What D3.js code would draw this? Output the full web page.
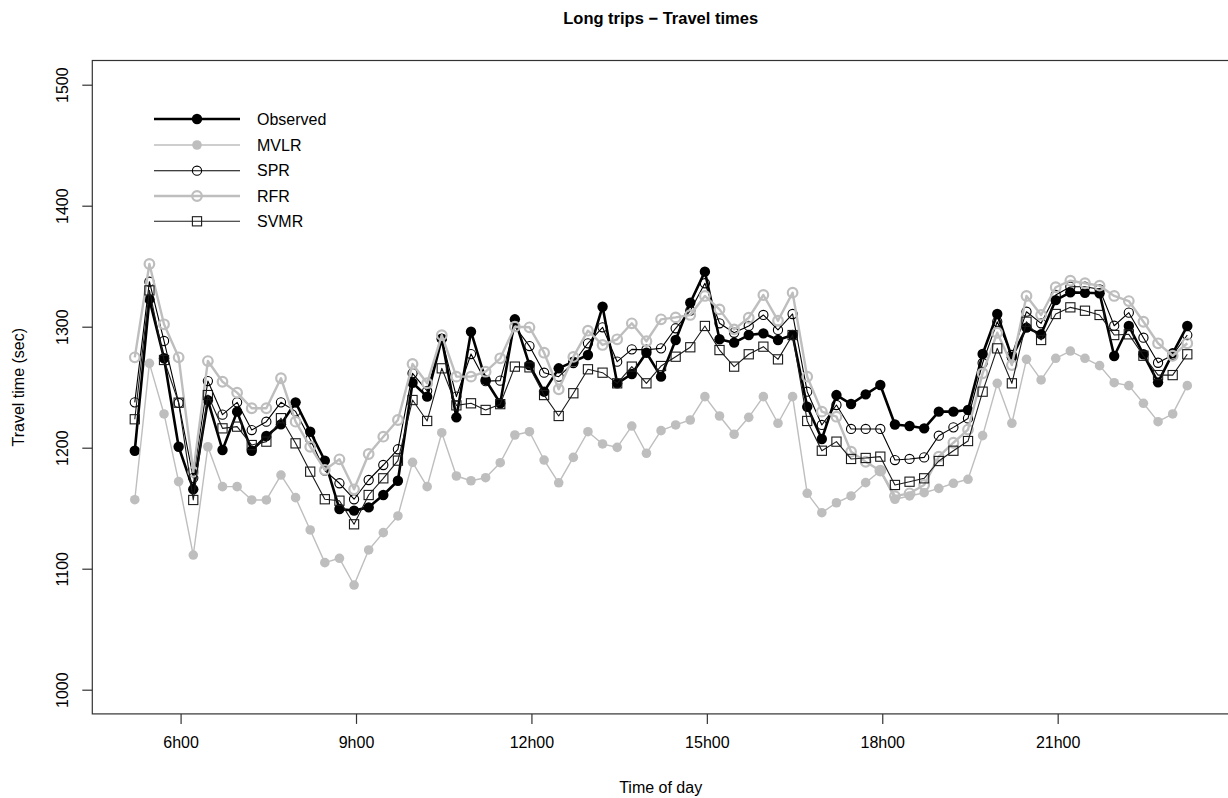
<!DOCTYPE html>
<html>
<head>
<meta charset="utf-8">
<script src="https://cdn.jsdelivr.net/npm/d3@7"></script>
<style>
  html, body { margin: 0; padding: 0; background: #fff; }
  svg text { font-family: "Liberation Sans", Arial, Helvetica, sans-serif; fill: #000; }
</style>
</head>
<body>
<svg id="chart" width="1228" height="798"></svg>
<script>
// ---- data ----
const times = ["5:13","5:28","5:43","5:58","6:13","6:28","6:43","6:58","7:13","7:28","7:43","7:58",
  "8:13","8:28","8:43","8:58","9:13","9:28","9:43","9:58","10:13","10:28","10:43","10:58",
  "11:13","11:28","11:43","11:58","12:13","12:28","12:43","12:58","13:13","13:28","13:43","13:58",
  "14:13","14:28","14:43","14:58","15:13","15:28","15:43","15:58","16:13","16:28","16:43","16:58",
  "17:13","17:28","17:43","17:58","18:13","18:28","18:43","18:58","19:13","19:28","19:43","19:58",
  "20:13","20:28","20:43","20:58","21:13","21:28","21:43","21:58","22:13","22:28","22:43","22:58","23:13"];

const observed = [1197.5,1322.6,1273.9,1200.8,1165.6,1239.2,1198.1,1229.8,1197.5,1209.7,1219.3,1237.5,
  1213.2,1189.3,1149.3,1148,1150.7,1160.9,1172.7,1253.7,1242.2,1290.1,1225.1,1295.9,
  1256,1236.7,1306.1,1268.3,1246.3,1265.6,1271.1,1276.6,1316.5,1253.2,1260.9,1278.5,
  1258.7,1289,1319.8,1345.5,1289.6,1286.8,1293.1,1294.5,1289,1293.1,1233.8,1207.2,
  1243.5,1236.1,1244.1,1251.8,1219.2,1217.9,1216,1229.8,1229.8,1231.2,1277.4,1310.5,
  1274.7,1299.2,1293.7,1322,1328.4,1328,1327.6,1275.8,1300.6,1277.2,1254,1278,1300.6];

const mvlr = [1157,1269.7,1227.9,1172,1111.3,1200.8,1167.8,1167.8,1156.8,1156.8,1177.4,1158.7,
  1132,1105,1108.6,1086.5,1115.5,1129.8,1143.6,1187.9,1167.8,1212.4,1176.6,1172.7,
  1175.2,1187.6,1210.5,1213.2,1189.8,1171,1192,1213.2,1203.1,1200.3,1217.9,1195.4,
  1214.1,1218.8,1222.9,1242.2,1226.2,1211.1,1225.1,1242.2,1220.2,1242.2,1162.3,1146.3,
  1154.5,1160.1,1171.1,1180.7,1157.4,1160.1,1162.8,1166.4,1170.6,1173.9,1210,1253.2,
  1220.2,1273,1256,1273.9,1279.9,1273.9,1267.8,1253.7,1251.3,1236.7,1221.5,1227.9,1251.3];

const spr = [1237.5,1337.2,1288.2,1237,1175,1255.1,1227.3,1237.5,1214.6,1221.5,1237.5,1230,
  1207,1181,1170.6,1157.4,1173.3,1185.7,1198.7,1261.5,1247,1290,1242.2,1277.4,
  1255,1255.4,1300,1284,1262,1258.7,1270,1286.3,1299.5,1271.1,1281.3,1281,
  1282.1,1298.7,1313.2,1335.9,1302.8,1295,1300.6,1309.7,1297.3,1310.5,1246.3,1218.8,
  1235.3,1215.5,1215.5,1215.5,1189.8,1190.7,1192,1209.9,1216.8,1224.2,1270,1304.1,
  1276.6,1312.4,1302.8,1326.2,1333,1333,1330.9,1300.8,1311.6,1290.9,1270.2,1276.6,1293.1];

const rfr = [1274.7,1351.8,1302,1274.7,1180,1271.6,1254.5,1245.5,1232.6,1232.6,1257.4,1221.5,
  1200.8,1181.6,1190.4,1165.6,1194.8,1209.1,1222.9,1269.2,1253.3,1293,1258.7,1258.7,
  1262.8,1273.9,1300,1299.5,1278.5,1248.3,1275,1296.7,1284.9,1289.6,1302.8,1288,
  1306.1,1307.7,1309.7,1325.4,1314.3,1297.8,1307.4,1326.2,1305,1328.1,1258.7,1229.8,
  1225.6,1196.7,1188.4,1181,1160,1162.3,1169.2,1192.6,1204.1,1215,1261.5,1295,
  1268.3,1325.4,1309.7,1332.6,1338,1335.9,1333.9,1325.4,1321.2,1304.1,1286.3,1276,1286.3];

const svmr = [1223.5,1330,1272.5,1237.2,1156.8,1243.5,1216,1217.4,1202.2,1205,1224.4,1203.6,
  1180.2,1157.4,1156.2,1136.7,1160.9,1174.7,1189.3,1239.4,1222.1,1265.6,1235,1236.7,
  1231.2,1236,1267,1266.4,1243.5,1226.2,1245,1264.8,1262,1253.2,1267,1253.2,
  1267.5,1275.2,1283,1300.6,1280.7,1267,1277.2,1283.5,1273,1293.1,1222.1,1197.5,
  1205,1190.7,1191.5,1192.6,1169.2,1171.9,1174.7,1189,1197.5,1205.5,1246.3,1282.1,
  1253.2,1304.1,1289,1310.5,1316,1313.2,1309.7,1293.1,1293.7,1276,1260,1260,1277.2];

const xTickHours = [6, 9, 12, 15, 18, 21];
const xTickLabels = ["6h00", "9h00", "12h00", "15h00", "18h00", "21h00"];
const yTicks = [1000, 1100, 1200, 1300, 1400, 1500];
const seriesNames = ["Observed", "MVLR", "SPR", "RFR", "SVMR"];

// ---- layout ----
const svg = d3.select("#chart");
const L = 92.3, R = 1229, T = 60.5, B = 713.9;
const toHours = s => { const [h, m] = s.split(":").map(Number); return h + m / 60; };
const x = d3.scaleLinear().domain([4.49, 23.93]).range([L, R]);
const y = d3.scaleLinear().domain([980, 1520]).range([B, T]);

const styles = {
  Observed: { color: "#000", lw: 2.6, marker: "fill", r: 5.2 },
  MVLR:     { color: "#bebebe", lw: 1.4, marker: "fill", r: 4.8 },
  SPR:      { color: "#000", lw: 1.1, marker: "open", r: 4.6 },
  RFR:      { color: "#bebebe", lw: 2.4, marker: "open", r: 4.8 },
  SVMR:     { color: "#1a1a1a", lw: 1.1, marker: "square", r: 4.6 }
};
const seriesData = { Observed: observed, MVLR: mvlr, SPR: spr, RFR: rfr, SVMR: svmr };

// frame
svg.append("rect").attr("x", L).attr("y", T).attr("width", R - L).attr("height", B - T)
  .attr("fill", "none").attr("stroke", "#333").attr("stroke-width", 1.2);

// axes
const xAxis = d3.axisBottom(x).tickValues(xTickHours)
  .tickFormat((d, i) => xTickLabels[i]).tickSize(10).tickPadding(13);
const gx = svg.append("g").attr("transform", `translate(0,${B})`).call(xAxis);
gx.select(".domain").remove();
gx.selectAll(".tick line").attr("stroke", "#333").attr("stroke-width", 1.2);
gx.selectAll(".tick text").attr("font-size", 16).attr("font-family", "Liberation Sans, Arial, sans-serif");

const yAxis = d3.axisLeft(y).tickValues(yTicks).tickSize(10).tickFormat(d3.format("d"));
const gy = svg.append("g").attr("transform", `translate(${L},0)`).call(yAxis);
gy.select(".domain").remove();
gy.selectAll(".tick line").attr("stroke", "#333").attr("stroke-width", 1.2);
gy.selectAll(".tick text")
  .attr("font-size", 16).attr("font-family", "Liberation Sans, Arial, sans-serif")
  .attr("x", null).attr("dy", null)
  .attr("text-anchor", "middle")
  .attr("transform", "translate(-30,0) rotate(-90)")
  .attr("y", 0).attr("dy", "0.35em");

// titles
svg.append("text").attr("x", (L + R) / 2).attr("y", 24).attr("text-anchor", "middle")
  .attr("font-size", 16.5).attr("font-weight", "bold").text("Long trips \u2212 Travel times");
svg.append("text").attr("x", (L + R) / 2).attr("y", 793).attr("text-anchor", "middle")
  .attr("font-size", 16).text("Time of day");
svg.append("text").attr("transform", `translate(24,${(T + B) / 2}) rotate(-90)`)
  .attr("text-anchor", "middle").attr("font-size", 16).text("Travel time (sec)");

// marker helper
function drawMarker(g, cx, cy, st) {
  if (st.marker === "fill") {
    g.append("circle").attr("cx", cx).attr("cy", cy).attr("r", st.r).attr("fill", st.color);
  } else if (st.marker === "open") {
    g.append("circle").attr("cx", cx).attr("cy", cy).attr("r", st.r)
      .attr("fill", "none").attr("stroke", st.color).attr("stroke-width", st.lw > 2 ? 2.2 : 1.1);
  } else {
    g.append("rect").attr("x", cx - st.r).attr("y", cy - st.r)
      .attr("width", 2 * st.r).attr("height", 2 * st.r)
      .attr("fill", "none").attr("stroke", st.color).attr("stroke-width", 1.1);
  }
}

// series
const line = d3.line().x(d => x(d[0])).y(d => y(d[1]));
seriesNames.forEach(name => {
  const st = styles[name];
  const pts = times.map((t, i) => [toHours(t), seriesData[name][i]]);
  const g = svg.append("g");
  g.append("path").datum(pts).attr("d", line).attr("fill", "none")
    .attr("stroke", st.color).attr("stroke-width", st.lw).attr("stroke-linejoin", "round");
  pts.forEach(p => drawMarker(g, x(p[0]), y(p[1]), st));
});

// legend
const legY = [119, 145, 170.7, 196, 221.3];
seriesNames.forEach((name, i) => {
  const st = styles[name];
  const g = svg.append("g");
  g.append("line").attr("x1", 154).attr("x2", 240).attr("y1", legY[i]).attr("y2", legY[i])
    .attr("stroke", st.color).attr("stroke-width", st.lw);
  drawMarker(g, 197, legY[i], st);
  g.append("text").attr("x", 257).attr("y", legY[i]).attr("dy", "0.36em")
    .attr("font-size", 16).text(name);
});
</script>
</body>
</html>
